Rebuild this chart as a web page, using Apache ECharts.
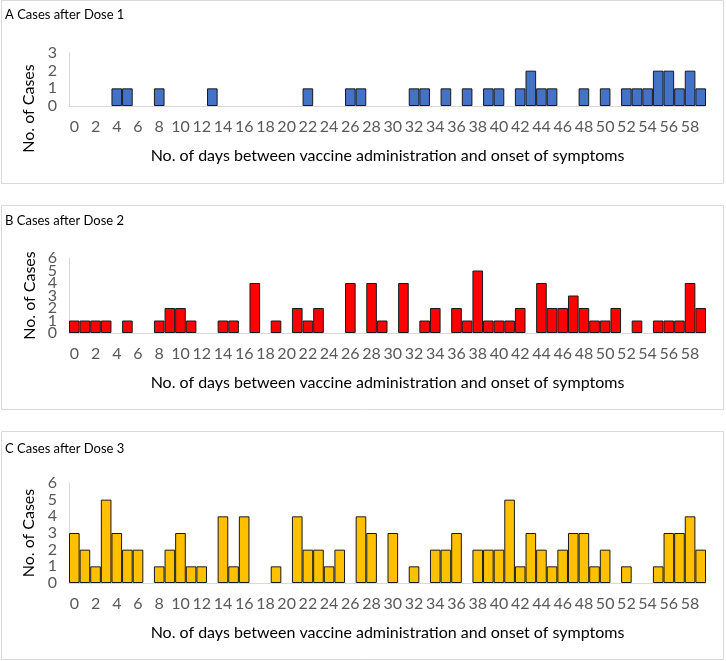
<!DOCTYPE html>
<html>
<head>
<meta charset="utf-8">
<script src="https://cdn.jsdelivr.net/npm/echarts@6/dist/echarts.min.js"></script>
<style>
html,body{margin:0;padding:0;background:#fff;}
#chart{width:726px;height:661px;}
</style>
</head>
<body>
<div id="chart"></div>
<script>
// Days 0..59
const days = Array.from({length: 60}, (_, i) => String(i));

// Cases by day (index = day)
const dose1 = [0,0,0,0,1,1,0,0,1,0, 0,0,0,1,0,0,0,0,0,0, 0,0,1,0,0,0,1,1,0,0, 0,0,1,1,0,1,0,1,0,1, 1,0,1,2,1,1,0,0,1,0, 1,0,1,1,1,2,2,1,2,1];
const dose2 = [1,1,1,1,0,1,0,0,1,2, 2,1,0,0,1,1,0,4,0,1, 0,2,1,2,0,0,4,0,4,1, 0,4,0,1,2,0,2,1,5,1, 1,1,2,0,4,2,2,3,2,1, 1,2,0,1,0,1,1,1,4,2];
const dose3 = [3,2,1,5,3,2,2,0,1,2, 3,1,1,0,4,1,4,0,0,1, 0,4,2,2,1,2,0,4,3,0, 3,0,1,0,2,2,3,0,2,2, 2,5,1,3,2,1,2,3,3,1, 2,0,1,0,0,1,3,3,4,2];

// Y tick labels of panel B (drawn at positions given by the axis scale)
const yTicksB = [0, 1, 2, 3, 4, 5, 6];

const titles = ['A Cases after Dose 1', 'B Cases after Dose 2', 'C Cases after Dose 3'];
const yMax = [3, 6, 6];
const colors = ['#4472C4', '#FF0000', '#FFC000'];
const xName = 'No. of days between vaccine administration and onset of symptoms';
const yName = 'No. of Cases';

const FONT = 'Lato, "Open Sans", sans-serif';

const grids = [
  {left: 69, right: 20, top: 53, height: 53},
  {left: 69, right: 20, top: 258, height: 75},
  {left: 69, right: 20, top: 483, height: 100}
];
const panels = [
  {y: 0, h: 183},
  {y: 205, h: 204},
  {y: 431, h: 228}
];
const titleY = [16, 222, 450];
const yNamePad = [[0, 58, 0, 0], [0, 0, 0, 0], [0, 0, 0, 0]];
const series = [dose1, dose2, dose3];

const chart = echarts.init(document.getElementById('chart'), null, {renderer: 'canvas'});

const baseGraphics = panels.map((p, i) => ({
  type: 'rect',
  shape: {x: 1.5, y: p.y + 0.5, width: 722, height: p.h},
  style: {fill: 'none', stroke: '#d9d9d9', lineWidth: 1},
  z: -1
})).concat(titles.map((t, i) => ({
  type: 'text',
  left: 5,
  top: titleY[i] - 8,
  style: {text: t, fill: '#000', font: '13px ' + FONT}
})));

const option = {
  backgroundColor: '#fff',
  animation: false,
  grid: grids,
  graphic: {elements: baseGraphics},
  xAxis: grids.map((g, i) => ({
    type: 'category',
    gridIndex: i,
    data: days,
    name: xName,
    nameLocation: 'middle',
    nameGap: 42,
    nameTextStyle: {color: '#000', fontSize: 16, fontFamily: FONT},
    axisLine: {lineStyle: {color: '#d9d9d9'}},
    axisTick: {show: false},
    axisLabel: {interval: 1, color: '#595959', fontSize: 16, fontFamily: FONT, margin: 13},
    splitLine: {show: false}
  })),
  yAxis: grids.map((g, i) => ({
    type: 'value',
    gridIndex: i,
    min: 0,
    max: yMax[i],
    interval: 1,
    name: yName,
    nameLocation: 'middle',
    nameGap: 31,
    nameTextStyle: {color: '#000', fontSize: 16, fontFamily: FONT, padding: yNamePad[i]},
    axisLine: {show: true, lineStyle: {color: '#d9d9d9'}},
    axisTick: {show: false},
    axisLabel: {
      show: i !== 1,
      color: '#595959', fontSize: 16, fontFamily: FONT, margin: 12,
      showMinLabel: true, showMaxLabel: true
    },
    splitLine: {show: false}
  })),
  series: series.map((d, i) => ({
    type: 'bar',
    xAxisIndex: i,
    yAxisIndex: i,
    data: d.map(v => (v === 0 ? '-' : v)),
    barCategoryGap: '0%',
    itemStyle: {color: colors[i], borderColor: '#1a1a1a', borderWidth: 1}
  }))
};
chart.setOption(option);

// Panel B: dense tick labels placed through the axis scale
const tickLabelsB = yTicksB.map(v => {
  const py = chart.convertToPixel({yAxisIndex: 1}, v);
  return {
    type: 'text',
    x: grids[1].left - 12,
    y: py,
    style: {
      text: String(v), fill: '#595959', font: '16px ' + FONT,
      align: 'right', verticalAlign: 'middle',
      textAlign: 'right', textVerticalAlign: 'middle'
    }
  };
});
chart.setOption({graphic: {elements: baseGraphics.concat(tickLabelsB)}});
</script>
</body>
</html>
